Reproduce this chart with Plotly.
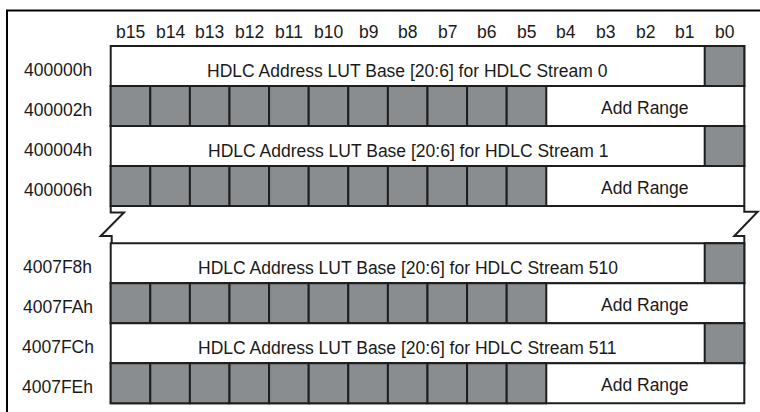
import plotly.graph_objects as go

# ---------------- data ----------------
bit_labels = ["b15", "b14", "b13", "b12", "b11", "b10", "b9", "b8",
              "b7", "b6", "b5", "b4", "b3", "b2", "b1", "b0"]
addresses = ["400000h", "400002h", "400004h", "400006h",
             "4007F8h", "4007FAh", "4007FCh", "4007FEh"]
row_kinds = ["base", "range", "base", "range", "base", "range", "base", "range"]
stream_ids = [0, 1, 510, 511]
base_field_text = "HDLC Address LUT Base [20:6] for HDLC Stream {}"
range_field_text = "Add Range"
reserved_in_base = ["b0"]
reserved_in_range = ["b15", "b14", "b13", "b12", "b11", "b10", "b9", "b8", "b7", "b6", "b5"]

# ---------------- geometry / style ----------------
W, H = 760, 412
X0 = 110.7
COLW = 39.6
ROWH = 40.0
GROUP_TOPS = [46.0, 243.3]
ROWS_PER_GROUP = 4
GRAY = "#8a8d8f"
LINE = "#1e1e1e"
LW = 2
FONT = "Liberation Sans, Arial, sans-serif"
FS = 17.5
TXT = "#1a1a1a"

X1 = X0 + COLW * len(bit_labels)


def col_x(bit):
    i = bit_labels.index(bit)
    return X0 + i * COLW


def row_top(r):
    g = r // ROWS_PER_GROUP
    return GROUP_TOPS[g] + (r % ROWS_PER_GROUP) * ROWH


shapes = []
annotations = []

# outer frame (only left/top visible)
shapes.append(dict(type="rect", x0=7, y0=10.5, x1=W + 30, y1=H + 30,
                   line=dict(color="#000000", width=2), fillcolor="rgba(0,0,0,0)", layer="above"))

# bit labels
for b in bit_labels:
    annotations.append(dict(x=col_x(b) + COLW / 2, y=31.5, text=b, showarrow=False,
                            font=dict(family=FONT, size=FS, color=TXT),
                            xanchor="center", yanchor="middle"))

base_i = 0
for r, (addr, kind) in enumerate(zip(addresses, row_kinds)):
    top = row_top(r)
    bot = top + ROWH
    mid = (top + bot) / 2
    annotations.append(dict(x=57.5, y=mid + 3.5, text=addr, showarrow=False,
                            font=dict(family=FONT, size=FS, color=TXT),
                            xanchor="center", yanchor="middle"))
    if kind == "base":
        res_x = min(col_x(b) for b in reserved_in_base)
        shapes.append(dict(type="rect", x0=X0, y0=top, x1=X1, y1=bot,
                           line=dict(color=LINE, width=LW), fillcolor="white"))
        for b in reserved_in_base:
            shapes.append(dict(type="rect", x0=col_x(b), y0=top, x1=col_x(b) + COLW, y1=bot,
                               line=dict(color=LINE, width=LW), fillcolor=GRAY))
        annotations.append(dict(x=(X0 + res_x) / 2, y=mid + 5,
                                text=base_field_text.format(stream_ids[base_i]), showarrow=False,
                                font=dict(family=FONT, size=FS, color=TXT),
                                xanchor="center", yanchor="middle"))
        base_i += 1
    else:
        shapes.append(dict(type="rect", x0=X0, y0=top, x1=X1, y1=bot,
                           line=dict(color=LINE, width=LW), fillcolor="white"))
        for b in reserved_in_range:
            shapes.append(dict(type="rect", x0=col_x(b), y0=top, x1=col_x(b) + COLW, y1=bot,
                               line=dict(color=LINE, width=LW), fillcolor=GRAY))
        fx0 = max(col_x(b) for b in reserved_in_range) + COLW
        annotations.append(dict(x=(fx0 + X1) / 2, y=mid + 2, text=range_field_text, showarrow=False,
                                font=dict(family=FONT, size=FS, color=TXT),
                                xanchor="center", yanchor="middle"))

# break (zig-zag) between the two groups
g0_bot = GROUP_TOPS[0] + ROWS_PER_GROUP * ROWH
g1_top = GROUP_TOPS[1]
zl = (f"M {X0},{g0_bot} L {X0},{g0_bot + 6.5} L {X0 + 13.3},{g0_bot + 6.5} "
      f"L {X0 - 10},{g1_top - 7.3} L {X0 + 1},{g1_top - 7.3} L {X0 + 1},{g1_top}")
zr = (f"M {X1},{g0_bot} L {X1},{g0_bot + 5.7} L {X1 + 13.4},{g0_bot + 5.7} "
      f"L {X1 - 10},{g1_top - 7.3} L {X1},{g1_top - 7.3} L {X1},{g1_top}")
for p in (zl, zr):
    shapes.append(dict(type="path", path=p, line=dict(color=LINE, width=LW)))

fig = go.Figure()
fig.add_trace(go.Scatter(x=[0], y=[0], mode="markers", marker=dict(opacity=0),
                         hoverinfo="skip", showlegend=False))
fig.update_layout(
    width=W, height=H,
    margin=dict(l=0, r=0, t=0, b=0),
    paper_bgcolor="white", plot_bgcolor="white",
    xaxis=dict(range=[0, W], visible=False, fixedrange=True),
    yaxis=dict(range=[H, 0], visible=False, fixedrange=True),
    shapes=shapes, annotations=annotations, showlegend=False,
)
fig.write_html("out.html", config={"displayModeBar": False},
               post_script="document.body.style.margin='0px';document.body.style.overflow='hidden';")
